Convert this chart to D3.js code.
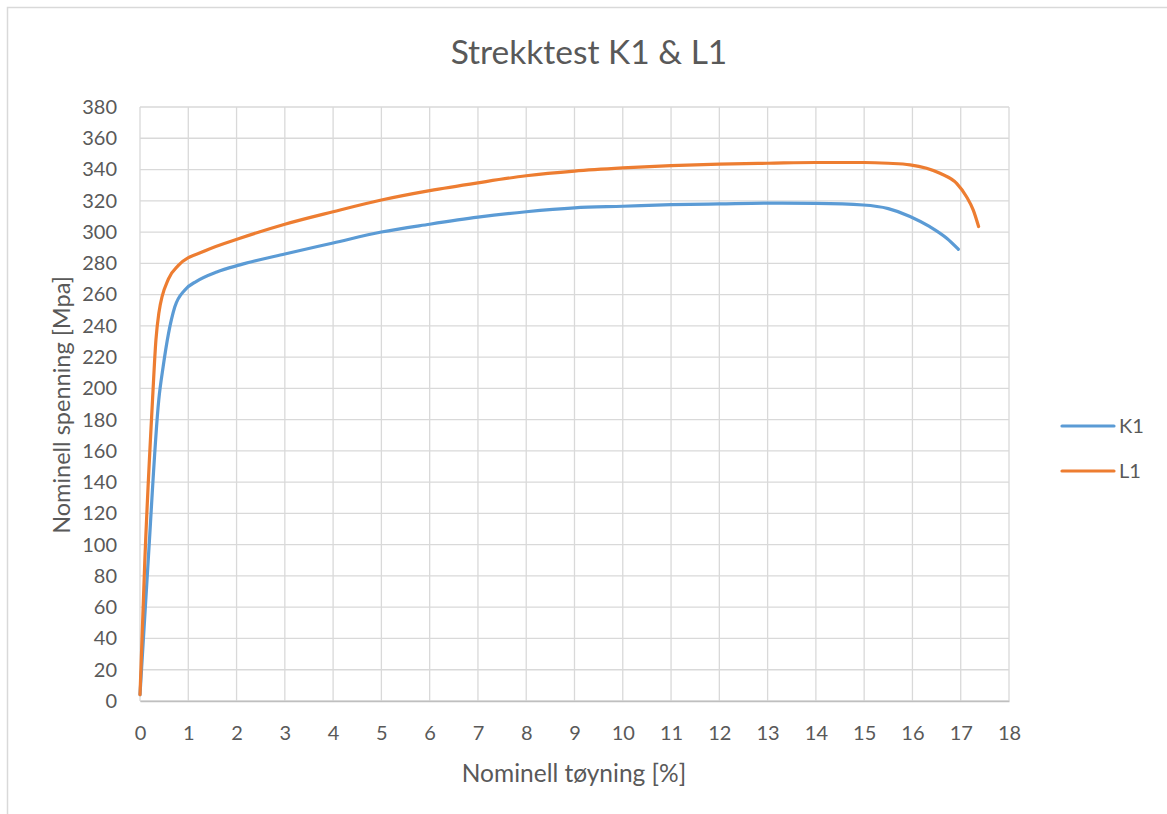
<!DOCTYPE html>
<html>
<head>
<meta charset="utf-8">
<script src="https://cdn.jsdelivr.net/npm/d3@7"></script>
<style>
  body { margin: 0; background: #fff; }
  svg text { font-family: Lato, "Open Sans", sans-serif; fill: #595959; }
</style>
</head>
<body>
<svg id="chart" width="1167" height="814"></svg>
<script>
// ── Data ────────────────────────────────────────────────────────────────────
const k1Strain = [0, 0.17, 0.39, 0.48, 0.59, 0.72, 0.93, 1.17, 1.59, 2.07, 3, 4, 5, 6, 7, 8, 9, 10, 11, 12, 13, 14, 14.98, 15.5, 15.95, 16.36, 16.71, 16.95];
const k1Stress = [4, 90, 193, 214, 235, 252, 263, 268.5, 274.5, 279, 286, 293, 300, 305, 309.5, 313, 315.5, 316.5, 317.5, 318, 318.5, 318.3, 317.3, 315, 310, 303.4, 296, 289];

const l1Strain = [0, 0.10, 0.26, 0.33, 0.39, 0.59, 0.79, 1.35, 2.07, 3, 4, 5, 6, 7, 8, 9, 10, 11, 12, 13, 14, 15, 15.5, 15.95, 16.57, 16.92, 17.12, 17.26, 17.37];
const l1Stress = [4, 90, 193, 231, 248, 270, 278.5, 288, 296, 305, 313, 320.5, 326.5, 331.5, 336, 339, 341, 342.5, 343.5, 344, 344.5, 344.5, 344, 343, 337.6, 331, 322.6, 314, 303.5];

const seriesNames  = ["K1", "L1"];
const seriesColors = ["#5B9BD5", "#ED7D31"];
const xTicks = d3.range(0, 19, 1);
const yTicks = d3.range(0, 381, 20);

// ── Layout ───────────────────────────────────────────────────────────────────
const svg = d3.select("#chart");
const plot = { left: 140, right: 1009, top: 107, bottom: 701 };

const x = d3.scaleLinear().domain([0, 18]).range([plot.left, plot.right]);
const y = d3.scaleLinear().domain([0, 380]).range([plot.bottom, plot.top]);

// chart frame
svg.append("rect")
    .attr("x", 7.5).attr("y", 7.5).attr("width", 1200).attr("height", 900)
    .attr("fill", "#fff").attr("stroke", "#d9d9d9").attr("stroke-width", 1.5);

// gridlines
const grid = svg.append("g").attr("stroke", "#d9d9d9").attr("stroke-width", 1.3);
grid.selectAll(".gx").data(xTicks).join("line")
    .attr("x1", d => x(d)).attr("x2", d => x(d))
    .attr("y1", plot.top).attr("y2", plot.bottom);
grid.selectAll(".gy").data(yTicks).join("line")
    .attr("x1", plot.left).attr("x2", plot.right)
    .attr("y1", d => y(d)).attr("y2", d => y(d));

// axes
const xAxis = svg.append("g")
    .attr("transform", `translate(0,${plot.bottom})`)
    .call(d3.axisBottom(x).tickValues(xTicks).tickSize(0).tickPadding(25));
const yAxis = svg.append("g")
    .attr("transform", `translate(${plot.left},0)`)
    .call(d3.axisLeft(y).tickValues(yTicks).tickSize(0).tickPadding(23));
[xAxis, yAxis].forEach(g => {
    g.select(".domain").attr("stroke", "#bfbfbf").attr("stroke-width", 1.3);
    g.selectAll("text").style("font-size", "20px").attr("fill", "#595959");
});
yAxis.select(".domain").remove();

// ── Lines ────────────────────────────────────────────────────────────────────
const line = d3.line().x(d => x(d[0])).y(d => y(d[1])).curve(d3.curveMonotoneX);
const series = [
    d3.zip(k1Strain, k1Stress),
    d3.zip(l1Strain, l1Stress),
];
series.forEach((pts, i) => {
    svg.append("path").datum(pts)
        .attr("fill", "none").attr("stroke", seriesColors[i])
        .attr("stroke-width", 3.2).attr("stroke-linecap", "round").attr("stroke-linejoin", "round")
        .attr("d", line);
});

// ── Titles ───────────────────────────────────────────────────────────────────
svg.append("text").attr("x", 589).attr("y", 64).attr("text-anchor", "middle")
    .style("font-size", "33.5px").text("Strekktest K1 & L1");
svg.append("text").attr("x", 574).attr("y", 782).attr("text-anchor", "middle")
    .style("font-size", "24.5px").text("Nominell tøyning [%]");
svg.append("text").attr("transform", "translate(70,405) rotate(-90)").attr("text-anchor", "middle")
    .style("font-size", "23.5px").text("Nominell spenning [Mpa]");

// ── Legend ───────────────────────────────────────────────────────────────────
const legend = svg.append("g");
seriesNames.forEach((name, i) => {
    const ly = 426 + i * 45;
    legend.append("line").attr("x1", 1062).attr("x2", 1114).attr("y1", ly).attr("y2", ly)
        .attr("stroke", seriesColors[i]).attr("stroke-width", 3.2).attr("stroke-linecap", "round");
    legend.append("text").attr("x", 1119).attr("y", ly + 7).style("font-size", "20px").text(name);
});
</script>
</body>
</html>
